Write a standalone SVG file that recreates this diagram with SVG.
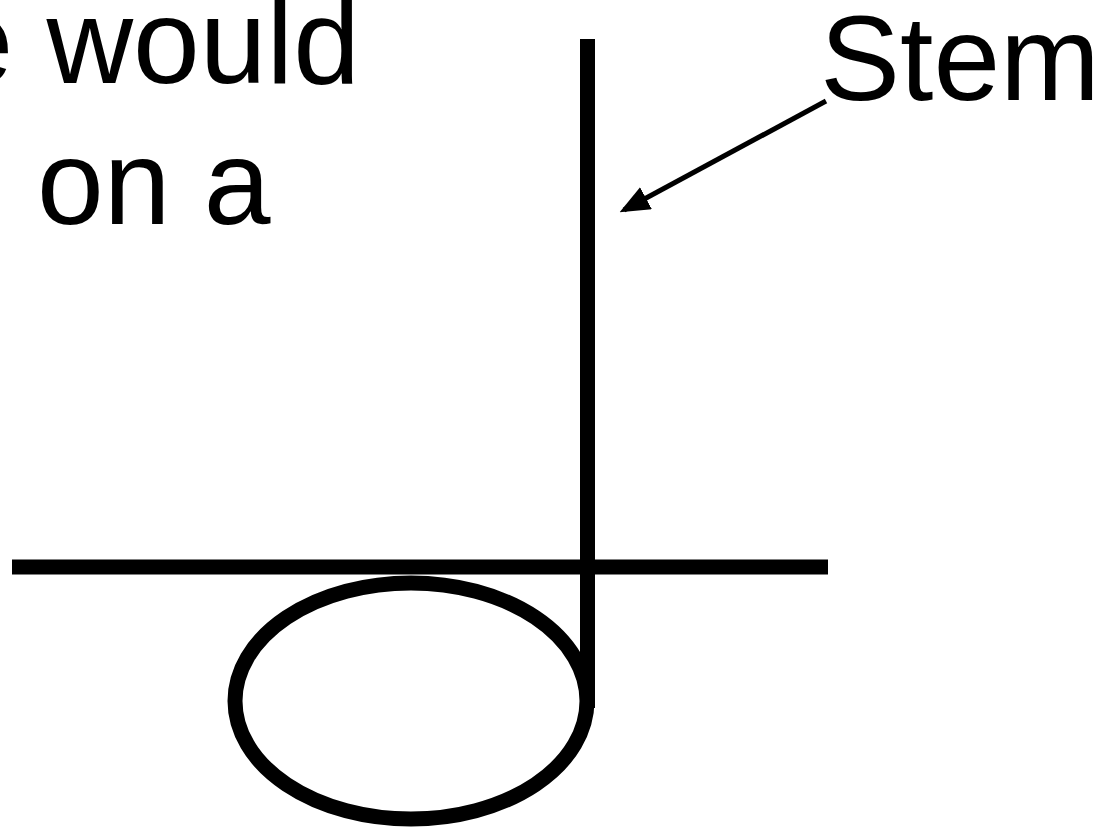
<svg xmlns="http://www.w3.org/2000/svg" width="1108" height="836" viewBox="0 0 1108 836">
<style>
text{font-family:"Liberation Sans",Arial,sans-serif;font-size:120px;fill:#000}
.thick{stroke:#000;stroke-width:15;fill:none}
</style>
<defs>
<marker id="ah" markerWidth="6" markerHeight="5" refX="5" refY="2.5" orient="auto" markerUnits="strokeWidth">
<path d="M0,0 L6,2.5 L0,5 Z" fill="#000"/>
</marker>
</defs>
<rect width="1108" height="836" fill="#fff"/>
<g id="text">
<text x="360" y="83" text-anchor="end">e would</text>
<text x="37" y="224">on a</text>
</g>
<g id="staff-line"><line class="thick" x1="12" y1="567" x2="828" y2="567"/></g>
<g id="notehead"><ellipse class="thick" cx="411" cy="701" rx="176" ry="118" stroke-width="16"/></g>
<g id="stem"><line class="thick" x1="587.5" y1="39" x2="587.5" y2="708"/></g>
<g id="label"><text x="820" y="100">Stem</text></g>
<g id="connectors">
<line x1="826" y1="101" x2="624" y2="210" stroke="#000" stroke-width="5" marker-end="url(#ah)"/>
</g>
</svg>
